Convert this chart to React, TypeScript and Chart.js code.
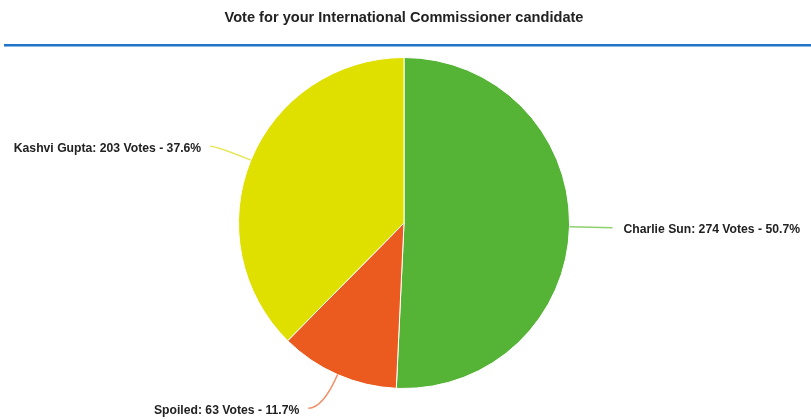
import React, { useEffect, useRef } from "react";
import { Chart, registerables } from "chart.js";

Chart.register(...registerables);

const TITLE = "Vote for your International Commissioner candidate";
const categories = ["Charlie Sun", "Spoiled", "Kashvi Gupta"];
const votes = [274, 63, 203];
const colors = ["#55b335", "#eb5a1e", "#dfdf00"];
const lineColors = ["#8fd06e", "#f2916a", "#e6e65a"];

const FONT = "'Liberation Sans', Arial, Helvetica, sans-serif";

const labelPlugin = {
  id: "pieLabels",
  afterDraw(chart: any) {
    const ctx = chart.ctx;
    const W = chart.width;
    const H = chart.height;
    // title
    ctx.save();
    ctx.fillStyle = "#222";
    ctx.font = `bold 14.6px ${FONT}`;
    ctx.textAlign = "center";
    ctx.textBaseline = "middle";
    ctx.fillText(TITLE, 404, 18);
    // blue rule
    ctx.fillStyle = "#1f74c9";
    ctx.fillRect(4, 44, W - 4, 2.5);
    ctx.restore();

    const meta = chart.getDatasetMeta(0);
    const total = votes.reduce((a, b) => a + b, 0);
    meta.data.forEach((arc: any, i: number) => {
      const { x: cx, y: cy, outerRadius: r, startAngle, endAngle } = arc.getProps(
        ["x", "y", "outerRadius", "startAngle", "endAngle"],
        true
      );
      const mid = (startAngle + endAngle) / 2;
      const dx = Math.cos(mid);
      const dy = Math.sin(mid);
      const sx = cx + r * dx;
      const sy = cy + r * dy;
      const R = r + 43;
      let ey = cy + R * dy * 0.97;
      const maxY = H - 10;
      if (ey > maxY) ey = maxY;
      const ddy = ey - cy;
      const side = dx >= 0 ? 1 : -1;
      const ex = cx + side * Math.sqrt(Math.max(R * R - ddy * ddy, 0));
      // control point: radial line from edge meets horizontal y = ey
      let kx: number;
      let ky: number;
      if (Math.abs(dy) > 0.05) {
        const t = (ey - sy) / dy;
        kx = sx + t * dx;
        ky = ey;
        if ((kx - ex) * side > 0) kx = ex;
      } else {
        kx = (sx + ex) / 2;
        ky = (sy + ey) / 2;
      }
      ctx.save();
      ctx.strokeStyle = lineColors[i];
      ctx.lineWidth = 1.5;
      ctx.beginPath();
      ctx.moveTo(sx, sy);
      ctx.quadraticCurveTo(kx, ky, ex, ey);
      ctx.stroke();
      const pct = ((votes[i] / total) * 100).toFixed(1);
      const text = `${categories[i]}: ${votes[i]} Votes - ${pct}%`;
      ctx.fillStyle = "#222";
      ctx.font = `bold 12.2px ${FONT}`;
      ctx.textBaseline = "middle";
      const right = side > 0;
      ctx.textAlign = right ? "left" : "right";
      ctx.fillText(text, right ? ex + 11 : ex - 9, ey + 2);
      ctx.restore();
    });
  },
};

export default function App() {
  const ref = useRef<HTMLCanvasElement | null>(null);
  useEffect(() => {
    if (!ref.current) return;
    const chart = new Chart(ref.current, {
      type: "pie",
      data: {
        labels: categories,
        datasets: [
          {
            data: votes,
            backgroundColor: colors,
            borderColor: "#ffffff",
            borderWidth: 1,
          },
        ],
      },
      options: {
        animation: false,
        responsive: false,
        maintainAspectRatio: false,
        layout: { padding: { top: 57, bottom: 30, left: 238, right: 241 } },
        plugins: {
          legend: { display: false },
          tooltip: { enabled: false },
          title: { display: false },
        },
      },
      plugins: [labelPlugin],
    });
    return () => chart.destroy();
  }, []);
  return (
    <div style={{ position: "absolute", left: 0, top: 0, width: 811, height: 419, background: "#fff" }}>
      <canvas ref={ref} width={811} height={419} style={{ width: 811, height: 419 }} />
    </div>
  );
}
